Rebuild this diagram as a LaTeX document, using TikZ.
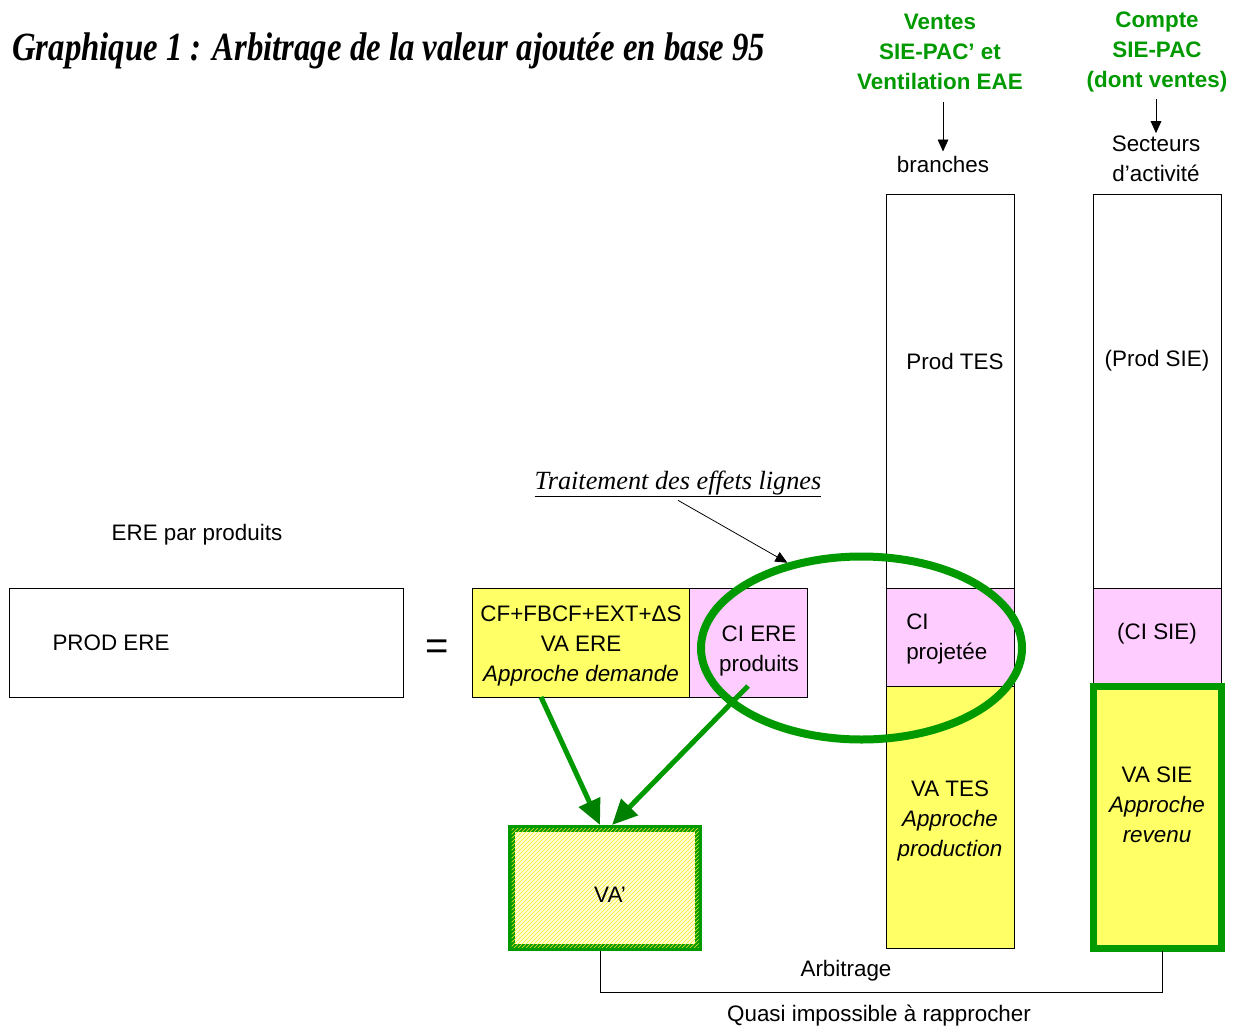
\documentclass[tikz,border=0pt]{standalone}
\usepackage{fontspec}
\setmainfont{Liberation Sans}
\newfontfamily\timesfont{Liberation Serif}
\usepackage{xcolor}
\usetikzlibrary{arrows.meta,positioning,calc,shapes.geometric,patterns}
\definecolor{vert}{RGB}{0,153,0}
\definecolor{vertfonce}{RGB}{0,128,0}
\definecolor{jaune}{RGB}{255,255,102}
\definecolor{rose}{RGB}{255,204,255}
\definecolor{hachure}{RGB}{250,235,40}
\definecolor{fondhach}{RGB}{255,255,215}

\begin{document}
\begin{tikzpicture}[x=0.75pt, y=-0.75pt,
  every node/.style={font=\fontsize{16.8}{22.5}\selectfont, inner sep=0pt},
  >={Triangle[length=9pt,width=8pt]},
  boite/.style={draw, line width=0.6pt, anchor=north west, outer sep=0pt},
  vtitre/.style={align=center, text=vert, font=\bfseries\fontsize{16.8}{22.8}\selectfont},
  fleche/.style={draw=vert, line width=3.75pt, -{Triangle[length=19pt,width=17pt,color=vertfonce]}}]
\useasboundingbox (0,0) rectangle (1244,1034);

% titre
\node[anchor=base west, font=\timesfont\bfseries\itshape\fontsize{30}{36}\selectfont] (titre) at (12,61)
  {\resizebox{564.75pt}{\height}{Graphique 1 : Arbitrage de la valeur ajoutée en base 95}};

% sources en haut a droite
\node[vtitre] (ventes) at (940,52) {Ventes\\SIE-PAC’ et\\Ventilation EAE};
\node[vtitre] (compte) at (1157,52) {Compte\\SIE-PAC\\(dont ventes)};
\node (branches) at (943,164) {branches};
\node[align=center] (secteurs) at (1156,159) {Secteurs\\d’activité};
\draw[->, line width=0.6pt, shorten <=9pt, shorten >=3pt] (branches.north |- ventes.south) -- (branches.north);
\draw[->, line width=0.6pt, shorten <=5pt, shorten >=2pt] (secteurs.north |- compte.south) -- (secteurs.north);

% colonne branches (TES)
\node[boite, minimum width=96pt, minimum height=295.5pt] (tesprod) at (886,194) {};
\node[boite, fill=rose, minimum width=96pt, minimum height=73.5pt] (tesci) at (tesprod.south west) {};
\node[boite, fill=jaune, minimum width=96pt, minimum height=196.5pt] (tesva) at (tesci.south west) {};

% colonne secteurs (SIE)
\node[boite, minimum width=96pt, minimum height=295.5pt] (sieprod) at (1093,194) {};
\node[boite, fill=rose, minimum width=96pt, minimum height=73.5pt] (sieci) at (sieprod.south west) {};
\node[boite, draw=vert, line width=5.25pt, fill=jaune, minimum width=96pt, minimum height=196.5pt] (sieva) at (sieci.south west) {};

\node (prodtes) at (955,361) {Prod TES};
\node (prodsie) at (1157,361) {(Prod SIE)};
\node[align=left, anchor=west] (ciproj) at (906,639) {CI\\projetée};
\node (cisie) at (1157,634) {(CI SIE)};
\node[align=center] (vates) at (950,821) {VA TES\\\textit{Approche}\\\textit{production}};
\node[align=center] (vasie) at (1157,805) {VA SIE\\\textit{Approche}\\\textit{revenu}};

% ERE
\node (erepar) at (197,535) {ERE par produits};
\node[boite, minimum width=295.5pt, minimum height=81.75pt] (prodbox) at (9,588) {};
\node (prodere) at (111,643) {PROD ERE};
\node[font=\fontsize{30}{30}\selectfont] (egal) at (437,650) {=};
\node[boite, fill=jaune, minimum width=162.75pt, minimum height=81.75pt] (demande) at (472,588) {};
\node[boite, fill=rose, minimum width=88.5pt, minimum height=81.75pt] (ciere) at (demande.north east) {};
\node[align=center] (demandetxt) at (581,646) {CF+FBCF+EXT+ΔS\\VA ERE\\\textit{Approche demande}};
\node[align=center] (ciertxt) at (759,651) {CI ERE\\produits};

% effets lignes
\node[ellipse, draw=vert, line width=6pt, minimum width=240.75pt, minimum height=137.25pt] (effets) at (861.5,648) {};
\node[font=\timesfont\itshape\fontsize{19.7}{24}\selectfont] (traitement) at (678,484) {\underline{Traitement des effets lignes}};
\draw[->, line width=0.6pt] ([yshift=-2pt]traitement.south) -- (effets.131);

% VA'
\node[boite, draw=vert, line width=5.25pt, outer sep=2.625pt, fill=fondhach,
  postaction={pattern=north east lines, pattern color=hachure},
  minimum width=140.25pt, minimum height=89.25pt] (vaprime) at (508,825) {};
\node (vatxt) at (610,895) {VA’};
\draw[fleche] ([xshift=51.75pt]demande.south west) -- ([xshift=69pt]vaprime.north west);
\draw[fleche] ([yshift=8.25pt]ciere.south) -- ([xshift=78pt]vaprime.north west);

% arbitrage
\draw[line width=0.6pt, shorten >=2.6pt] ([xshift=-3.75pt]vaprime.south) -- ++(0,41) -| ([xshift=3.75pt]sieva.south);
\node (arbitrage) at (846,971) {Arbitrage};
\node (quasi) at (879,1016) {Quasi impossible à rapprocher};
\end{tikzpicture}
\end{document}
